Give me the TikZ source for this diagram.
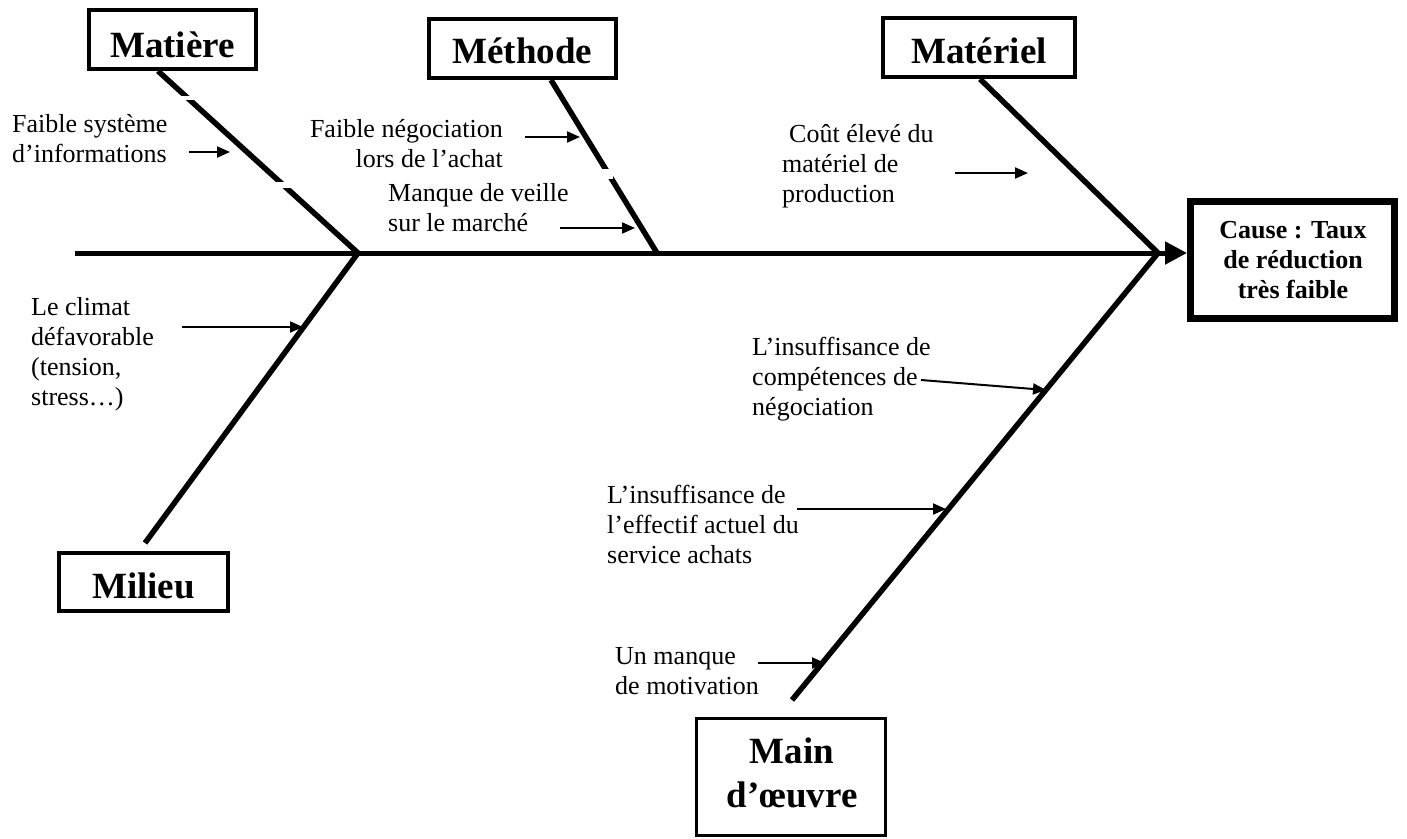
\documentclass[tikz,border=0pt]{standalone}
\usepackage{fontspec}
\setmainfont{Liberation Serif}
\usetikzlibrary{arrows.meta}
\begin{document}
\begin{tikzpicture}[x=1pt,y=-1pt,
  catbox/.style={draw, line width=4pt, inner sep=0pt, fill=white},
  cattext/.style={font=\fontsize{37}{44}\selectfont\bfseries, inner sep=0pt, anchor=base},
  causetext/.style={font=\fontsize{26}{30}\selectfont\bfseries, inner sep=0pt, anchor=base},
  lbl/.style={font=\fontsize{26}{30}\selectfont, inner sep=0pt, align=left, anchor=north west},
  bone/.style={line width=5.5pt},
  spine/.style={line width=5pt, -{Triangle[length=22pt,width=22pt]}},
  cause/.style={line width=2pt, -{Triangle[length=13pt,width=11pt]}},
  gap/.style={fill=white, draw=none}
]
\useasboundingbox (0,0) rectangle (1407,838);

% category boxes
\node[catbox, minimum width=167pt, minimum height=59pt] (matiere) at (172.5,39.5) {};
\node[cattext] (matiere-t) at (172.5,57) {Matière};
\node[catbox, minimum width=187pt, minimum height=59pt] (methode) at (522.5,48.5) {};
\node[cattext] (methode-t) at (522.5,63) {Méthode};
\node[catbox, minimum width=192pt, minimum height=59pt] (materiel) at (979,47.5) {};
\node[cattext] (materiel-t) at (979,63) {Matériel};
\node[catbox, minimum width=169pt, minimum height=58pt] (milieu) at (143.5,582) {};
\node[cattext] (milieu-t) at (143.5,598) {Milieu};
\node[catbox, line width=3pt, minimum width=189pt, minimum height=117pt] (main) at (791,777) {};
\node[cattext] (main-t1) at (792,763) {Main};
\node[cattext] (main-t2) at (792,807) {d’œuvre};

% effect box
\node[catbox, line width=7pt, minimum width=204pt, minimum height=117pt] (effect) at (1292.5,260) {};
\node[causetext] (effect-t1) at (1293,238) {Cause : Taux};
\node[causetext] (effect-t2) at (1293,268) {de réduction};
\node[causetext] (effect-t3) at (1293,298) {très faible};

% spine and bone end points
\coordinate (tail) at (75,253);
\coordinate (j1) at (358,253);
\coordinate (j2) at (657,253);
\coordinate (j3) at (1158,253);
\coordinate (matiere-foot) at (158,71);
\coordinate (methode-foot) at (551,80);
\coordinate (materiel-foot) at (980,79);
\coordinate (milieu-top) at (145,543);
\coordinate (main-top) at (792,700);

\draw[bone] (matiere-foot) -- (j1);
\draw[bone] (methode-foot) -- (j2);
\draw[bone] (materiel-foot) -- (j3);
\draw[bone] (milieu-top) -- (j1);
\draw[bone] (main-top) -- (j3);
\draw[spine] (tail) -- (tail -| effect.west);

% small breaks left by text frames
\fill[gap] (178,95.5) rectangle (198,99.5);
\fill[gap] (272,182) rectangle (298,188);
\fill[gap] (596,168.5) rectangle (613,179);

% causes
\node[lbl] (c1) at (12,114) {Faible système\\d’informations};
\node[lbl, align=right, anchor=north east] (c2) at (503,119) {Faible négociation\\lors de l’achat};
\node[lbl] (c3) at (388,183) {Manque de veille\\sur le marché};
\node[lbl] (c4) at (782,124) {\hspace*{7pt}Coût élevé du\\matériel de\\production};
\node[lbl] (c5) at (31,297) {Le climat\\défavorable\\(tension,\\stress…)};
\node[lbl] (c6) at (752,337) {L’insuffisance de\\compétences de\\négociation};
\node[lbl] (c7) at (607,485) {L’insuffisance de\\l’effectif actuel du\\service achats};
\node[lbl] (c8) at (615,647) {Un manque\\de motivation};

\coordinate (a1s) at (189,152);  \coordinate (a1e) at (230,152);
\coordinate (a2s) at (525,137);  \coordinate (a2e) at (580,137);
\coordinate (a3s) at (560,228);  \coordinate (a3e) at (635,228);
\coordinate (a4s) at (955,173);  \coordinate (a4e) at (1028,173);
\coordinate (a5s) at (182,327);  \coordinate (a5e) at (303,327);
\coordinate (a6s) at (921,380);  \coordinate (a6e) at (1046,390);
\coordinate (a7s) at (797,509);  \coordinate (a7e) at (946,509);
\coordinate (a8s) at (758,663);  \coordinate (a8e) at (825,663);

\draw[cause] (a1s) -- (a1e);
\draw[cause] (a2s) -- (a2e);
\draw[cause] (a3s) -- (a3e);
\draw[cause] (a4s) -- (a4e);
\draw[cause] (a5s) -- (a5e);
\draw[cause] (a6s) -- (a6e);
\draw[cause] (a7s) -- (a7e);
\draw[cause] (a8s) -- (a8e);
\end{tikzpicture}
\end{document}
